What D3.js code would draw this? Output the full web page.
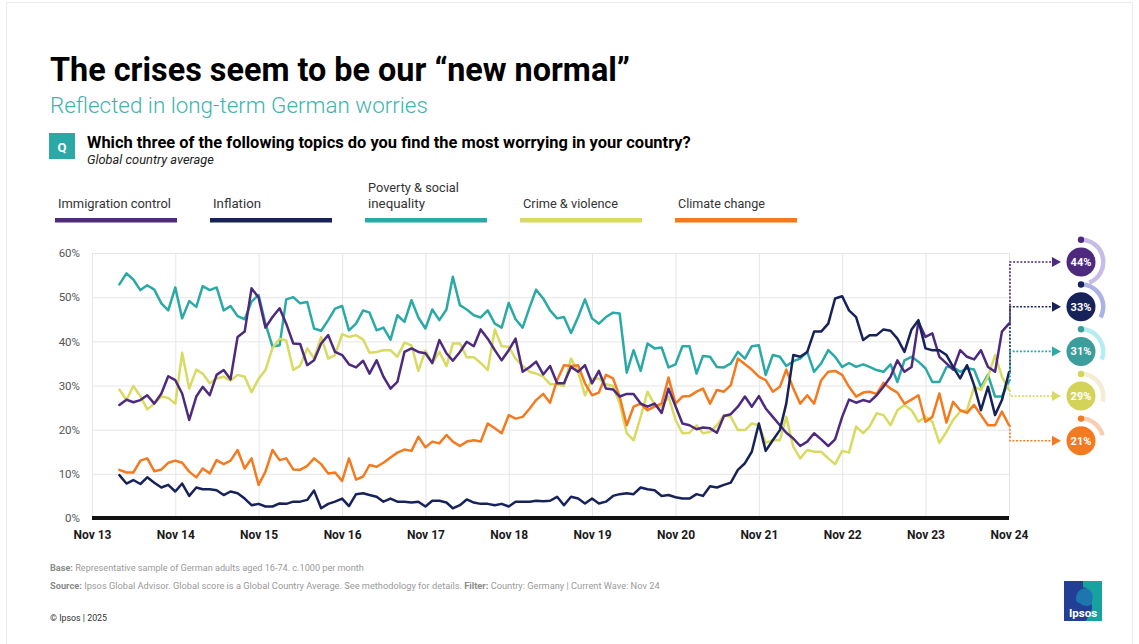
<!DOCTYPE html>
<html>
<head>
<meta charset="utf-8">
<script src="https://cdn.jsdelivr.net/npm/d3@7"></script>
<style>
  html, body { margin: 0; padding: 0; background: #fff; }
  svg { display: block; font-family: Roboto, "Noto Sans", sans-serif; }
</style>
</head>
<body>
<svg id="chart" width="1139" height="644"></svg>
<script>
// ---------------- DATA ----------------
const seriesNames = ["Immigration control", "Inflation", "Poverty & social inequality", "Crime & violence", "Climate change"];
const legendLines = [["Immigration control"], ["Inflation"], ["Poverty & social", "inequality"], ["Crime & violence"], ["Climate change"]];
const firstWave = "2014-03"; // monthly waves, Mar 2014 .. Nov 2024

const immigration = [
  25.6, 26.8, 26.2, 26.7, 27.8, 25.9, 28.2, 32.1, 31.2, 28.2,
  22.2, 27.5, 29.7, 27.8, 32.4, 33.5, 31.4, 41.0, 42.2, 52.0,
  49.9, 43.1, 45.5, 47.5, 44.0, 39.5, 39.4, 34.6, 35.7, 39.5,
  41.4, 37.6, 36.9, 34.8, 34.1, 35.6, 32.7, 35.7, 32.0, 29.3,
  30.8, 37.6, 38.4, 37.6, 37.3, 35.1, 40.3, 37.3, 35.6, 37.6,
  39.9, 38.9, 42.7, 40.6, 38.0, 35.7, 38.0, 40.6, 33.1, 34.2,
  35.4, 32.5, 34.4, 30.5, 30.5, 34.2, 33.1, 34.6, 30.5, 33.3,
  29.3, 29.1, 27.5, 28.1, 28.1, 25.9, 25.2, 25.9, 23.8, 29.3,
  25.3, 21.4, 21.0, 20.1, 20.5, 20.3, 19.3, 23.1, 23.5, 25.2,
  27.5, 25.2, 27.6, 24.8, 22.9, 21.0, 19.3, 18.0, 16.3, 17.3,
  19.2, 17.8, 16.3, 17.8, 22.9, 26.8, 26.1, 26.7, 26.3, 27.8,
  29.7, 32.0, 35.7, 33.1, 34.2, 44.4, 41.0, 41.8, 36.5, 35.0,
  33.6, 38.0, 36.5, 35.9, 38.0, 34.2, 33.1, 42.2, 44.0
];
const inflation = [
  9.7, 7.8, 8.6, 7.7, 9.2, 8.0, 6.9, 7.5, 6.0, 7.8,
  5.0, 6.9, 6.5, 6.5, 6.3, 5.2, 6.0, 5.6, 4.4, 2.9,
  3.2, 2.6, 2.6, 3.3, 3.2, 3.7, 3.7, 4.1, 6.2, 2.2,
  3.2, 3.7, 4.4, 2.7, 5.4, 5.6, 5.2, 4.8, 3.7, 4.4,
  3.7, 3.7, 3.5, 3.7, 2.6, 3.9, 3.9, 3.5, 2.2, 2.9,
  4.2, 3.5, 3.2, 3.2, 2.9, 3.2, 2.6, 3.7, 3.7, 3.7,
  3.9, 3.8, 3.9, 4.8, 2.9, 4.8, 4.4, 3.3, 4.4, 3.3,
  3.7, 5.0, 5.4, 5.6, 5.4, 6.9, 6.5, 6.3, 5.0, 5.2,
  4.7, 4.4, 4.4, 5.4, 5.0, 7.2, 6.9, 7.5, 8.0, 10.9,
  12.4, 15.0, 21.4, 15.2, 17.6, 19.9, 25.9, 36.9, 36.5, 37.6,
  42.2, 42.2, 44.0, 49.7, 50.2, 47.0, 45.5, 40.3, 41.4, 41.4,
  42.7, 42.4, 40.6, 37.6, 42.7, 44.8, 38.4, 38.0, 38.0, 36.9,
  34.2, 31.6, 34.6, 30.1, 24.4, 29.7, 23.3, 26.7, 33.0
];
const poverty = [
  52.9, 55.4, 54.0, 51.6, 52.7, 51.7, 48.6, 47.0, 52.2, 45.2,
  49.1, 47.8, 52.5, 51.6, 52.2, 47.0, 48.0, 45.7, 45.0, 49.0,
  50.5, 44.0, 38.8, 39.1, 49.5, 50.0, 48.6, 48.9, 42.9, 42.4,
  44.8, 47.4, 48.0, 42.5, 44.0, 47.0, 46.5, 42.5, 43.1, 40.4,
  45.9, 44.4, 49.3, 45.4, 42.9, 47.2, 44.8, 47.2, 54.6, 48.2,
  47.2, 45.9, 45.4, 47.0, 44.0, 43.1, 48.7, 45.0, 43.1, 47.8,
  51.7, 49.7, 47.0, 45.2, 45.5, 41.9, 45.5, 49.5, 45.2, 44.0,
  45.5, 46.5, 46.3, 32.9, 38.0, 33.3, 39.5, 38.4, 38.6, 34.1,
  34.8, 38.9, 38.9, 32.7, 36.7, 36.5, 34.2, 34.1, 35.0, 37.6,
  36.1, 38.9, 39.1, 32.4, 36.9, 36.5, 34.4, 35.5, 36.1, 37.6,
  33.1, 35.0, 38.0, 36.5, 34.2, 35.1, 34.2, 34.8, 34.2, 33.5,
  33.1, 34.8, 30.8, 35.7, 36.5, 35.4, 33.9, 30.8, 30.8, 34.2,
  34.2, 33.1, 33.9, 33.6, 29.7, 32.4, 27.5, 27.5, 31.0
];
const crime = [
  29.1, 26.7, 29.9, 27.6, 24.6, 25.9, 27.5, 27.2, 25.9, 37.4,
  29.3, 33.6, 32.7, 30.5, 31.6, 32.0, 31.1, 32.4, 32.0, 28.5,
  31.5, 33.5, 38.5, 40.6, 40.2, 33.5, 34.5, 38.4, 36.1, 41.0,
  36.1, 36.9, 41.6, 41.0, 41.4, 40.4, 37.4, 37.6, 38.0, 38.0,
  36.5, 39.7, 39.1, 33.3, 37.9, 35.0, 37.6, 34.4, 39.5, 39.5,
  36.4, 36.4, 35.1, 33.5, 42.7, 38.9, 38.8, 36.1, 34.4, 33.1,
  32.7, 32.0, 30.3, 30.3, 29.9, 36.1, 33.1, 27.8, 31.6, 31.6,
  30.3, 29.9, 25.9, 19.2, 17.6, 22.9, 28.6, 25.6, 25.2, 27.5,
  22.2, 19.2, 19.3, 21.0, 19.2, 19.5, 21.0, 23.3, 22.9, 19.9,
  19.9, 21.4, 21.0, 17.0, 17.6, 17.6, 22.9, 16.1, 13.5, 15.4,
  15.0, 15.0, 13.5, 12.2, 15.2, 14.8, 20.7, 19.2, 20.7, 23.7,
  23.3, 21.0, 24.4, 25.6, 24.4, 21.8, 22.9, 21.8, 17.0, 19.5,
  22.2, 24.1, 24.4, 29.7, 29.0, 32.0, 36.9, 32.0, 29.0
];
const climate = [
  10.9, 10.3, 10.3, 13.0, 13.5, 10.6, 11.0, 12.5, 13.0, 12.5,
  10.5, 9.2, 11.2, 10.1, 13.1, 12.2, 13.0, 15.4, 11.2, 13.5,
  7.5, 10.5, 15.4, 13.1, 13.5, 11.0, 10.9, 11.8, 13.5, 12.2,
  10.1, 10.3, 8.4, 13.5, 8.7, 9.4, 12.0, 11.6, 12.5, 13.7,
  14.8, 15.5, 15.2, 18.4, 16.0, 17.3, 16.9, 18.8, 17.3, 16.3,
  17.3, 17.6, 17.3, 21.4, 20.3, 19.2, 23.3, 22.5, 22.9, 24.8,
  26.7, 28.1, 26.1, 31.2, 34.6, 34.4, 34.6, 30.5, 27.8, 28.4,
  32.4, 31.6, 27.5, 21.0, 25.2, 25.9, 24.4, 25.2, 25.9, 31.8,
  25.9, 27.5, 27.6, 28.6, 29.3, 25.9, 29.0, 28.6, 30.1, 36.1,
  34.8, 33.6, 32.0, 31.2, 28.6, 29.7, 33.6, 29.3, 25.9, 27.8,
  25.9, 31.2, 33.1, 33.3, 32.4, 29.7, 27.5, 28.4, 28.6, 28.1,
  30.6, 29.3, 28.4, 25.9, 26.8, 27.8, 21.8, 22.9, 28.2, 21.6,
  26.3, 24.4, 23.8, 25.6, 23.3, 21.0, 21.0, 24.1, 21.0
];
const seriesValues = [immigration, inflation, poverty, crime, climate];

const yTickValues = [0, 10, 20, 30, 40, 50, 60];
const xTickLabels = ["Nov 13", "Nov 14", "Nov 15", "Nov 16", "Nov 17", "Nov 18", "Nov 19", "Nov 20", "Nov 21", "Nov 22", "Nov 23", "Nov 24"];

// ---------------- STYLE ----------------
const colors = ["#4e2a7e", "#17225a", "#2aa9a6", "#d8da62", "#f47a20"];
const badgeColors = ["#4e2a7e", "#17225a", "#3b9d9c", "#d3d35a", "#f47a20"];
const arcColors = ["#c7bce6", "#aab2e6", "#b4eef0", "#f4ecd3", "#f9cdb0"];
const drawOrder = [2, 3, 4, 0, 1];
const legendWidths = [[113], [48], [91, 57], [95], [87]];

const svg = d3.select("#chart");
const W = 1139, H = 644;

svg.append("rect").attr("x", 6.5).attr("y", 2.5).attr("width", W - 13).attr("height", H)
  .attr("fill", "#fff").attr("stroke", "#ececec");

function fit(sel, width) {
  const n = sel.node();
  const cur = n.getComputedTextLength();
  const fs = parseFloat(sel.attr("font-size"));
  if (cur > 0) sel.attr("font-size", (fs * width / cur).toFixed(2));
  return sel;
}

// ---------------- HEADER ----------------
fit(svg.append("text").attr("x", 50).attr("y", 81).attr("font-size", 30).attr("font-weight", 700)
  .attr("fill", "#000").text("The crises seem to be our \u201Cnew normal\u201D"), 580);

fit(svg.append("text").attr("x", 50).attr("y", 113).attr("font-size", 21).attr("font-weight", 300)
  .attr("fill", "#3fb3ad").text("Reflected in long-term German worries"), 378);

svg.append("rect").attr("x", 49).attr("y", 133).attr("width", 26).attr("height", 26).attr("fill", "#2aa9a6");
svg.append("text").attr("x", 62).attr("y", 151.5).attr("text-anchor", "middle").attr("font-size", 13)
  .attr("font-weight", 700).attr("fill", "#fff").text("Q");

fit(svg.append("text").attr("x", 87).attr("y", 148).attr("font-size", 15).attr("font-weight", 700)
  .attr("fill", "#000").text("Which three of the following topics do you find the most worrying in your country?"), 604);

fit(svg.append("text").attr("x", 87).attr("y", 164).attr("font-size", 11).attr("font-style", "italic")
  .attr("fill", "#222").text("Global country average"), 127);

// ---------------- LEGEND ----------------
const legendX = [58, 213, 368, 523, 678];
const legend = svg.append("g");
seriesNames.forEach((name, i) => {
  const lines = legendLines[i];
  lines.forEach((ln, j) => {
    const t = legend.append("text").attr("x", legendX[i]).attr("y", 208 - (lines.length - 1 - j) * 16)
      .attr("font-size", 12.5).attr("fill", "#333").text(ln);
    fit(t, legendWidths[i][j]);
  });
  legend.append("rect").attr("x", legendX[i] - 3).attr("y", 218).attr("width", 122).attr("height", 4.5)
    .attr("fill", colors[i]);
});

// ---------------- CHART ----------------
const x0 = 92, x1 = 1009, yTop = 253, yBot = 518;
const startDate = d3.timeParse("%Y-%m")(firstWave);
const x = d3.scaleTime().domain([new Date(2013, 10, 1), new Date(2024, 10, 1)]).range([x0, x1]);
const y = d3.scaleLinear().domain([0, 60]).range([yBot, yTop]);
const xTickDates = xTickLabels.map((_, i) => new Date(2013 + i, 10, 1));

const gy = svg.append("g").attr("transform", `translate(${x0},0)`)
  .call(d3.axisLeft(y).tickValues(yTickValues).tickFormat(d => d + "%").tickSize(-(x1 - x0)).tickPadding(12));
gy.select(".domain").remove();
gy.selectAll(".tick line").attr("stroke", "#e6e6e6").attr("stroke-width", 1);
gy.selectAll(".tick text").attr("font-size", 11.5).attr("fill", "#555").attr("font-family", "Roboto, sans-serif");

const gx = svg.append("g").attr("transform", `translate(0,${yBot})`)
  .call(d3.axisBottom(x).tickValues(xTickDates).tickFormat((d, i) => xTickLabels[i]).tickSize(-(yBot - yTop)).tickPadding(12));
gx.select(".domain").remove();
gx.selectAll(".tick line").attr("stroke", "#e6e6e6").attr("stroke-width", 1);
gx.selectAll(".tick text").attr("font-size", 12).attr("font-weight", 700).attr("fill", "#1a1a1a")
  .attr("font-family", "Roboto, sans-serif");

const series = seriesValues.map((vals, k) => ({
  k, name: seriesNames[k],
  pts: vals.map((v, i) => ({ date: d3.timeMonth.offset(startDate, i), v }))
}));

const line = d3.line().x(d => x(d.date)).y(d => y(d.v));
const linesG = svg.append("g");
drawOrder.forEach(k => {
  linesG.append("path").datum(series[k].pts).attr("d", line).attr("fill", "none")
    .attr("stroke", colors[k]).attr("stroke-width", 2.5).attr("stroke-linejoin", "round").attr("stroke-linecap", "round");
});

// baseline
svg.append("line").attr("x1", x0).attr("x2", x1).attr("y1", yBot).attr("y2", yBot)
  .attr("stroke", "#111").attr("stroke-width", 4);

// ---------------- END BADGES ----------------
const badgeX = 1081, badgeTop = 262, badgeStep = 44.7;
const conX = x1 + 1, arrowTip = 1061;
const annot = svg.append("g");
series.forEach((s, k) => {
  const last = s.pts[s.pts.length - 1];
  const yEnd = y(last.v);
  const by = badgeTop + k * badgeStep;
  annot.append("path")
    .attr("d", `M${conX},${yEnd} L${conX},${by} L${arrowTip - 8},${by}`)
    .attr("fill", "none").attr("stroke", colors[k]).attr("stroke-width", 1.6).attr("stroke-dasharray", "2,1.6");
  annot.append("path")
    .attr("d", `M${arrowTip - 9},${by - 5} L${arrowTip},${by} L${arrowTip - 9},${by + 5} Z`)
    .attr("fill", colors[k]);
  const arc = d3.arc().innerRadius(20).outerRadius(24.5).startAngle(0).endAngle(2 * Math.PI * last.v / 100);
  annot.append("path").attr("transform", `translate(${badgeX},${by})`).attr("d", arc()).attr("fill", arcColors[k]);
  annot.append("circle").attr("cx", badgeX).attr("cy", by - 22.2).attr("r", 3.2).attr("fill", badgeColors[k]);
  annot.append("circle").attr("cx", badgeX).attr("cy", by).attr("r", 14.5).attr("fill", badgeColors[k]);
  annot.append("text").attr("x", badgeX).attr("y", by + 4).attr("text-anchor", "middle")
    .attr("font-size", 11).attr("font-weight", 700).attr("fill", "#fff").text(Math.round(last.v) + "%");
});

// ---------------- FOOTER ----------------
const f1 = svg.append("text").attr("x", 50).attr("y", 571).attr("font-size", 8.5).attr("fill", "#9a9a9a");
f1.append("tspan").attr("font-weight", 700).attr("fill", "#8a8a8a").text("Base: ");
f1.append("tspan").text("Representative sample of German adults aged 16-74. c.1000 per month");
fit(f1, 314);

const f2 = svg.append("text").attr("x", 50).attr("y", 589).attr("font-size", 8.5).attr("fill", "#9a9a9a");
f2.append("tspan").attr("font-weight", 700).attr("fill", "#8a8a8a").text("Source: ");
f2.append("tspan").text("Ipsos Global Advisor. Global score is a Global Country Average. See methodology for details. ");
f2.append("tspan").attr("font-weight", 700).attr("fill", "#8a8a8a").text("Filter: ");
f2.append("tspan").text("Country: Germany | Current Wave: Nov 24");
fit(f2, 610);

fit(svg.append("text").attr("x", 50).attr("y", 621).attr("font-size", 9).attr("fill", "#333")
  .text("\u00A9 Ipsos | 2025"), 57);

// ---------------- LOGO ----------------
const logo = svg.append("g").attr("transform", "translate(1064,581)");
logo.append("rect").attr("width", 38).attr("height", 40).attr("fill", "#233f95");
logo.append("path").attr("d", "M19,0 L38,0 L38,40 L22,40 C26,32 30,28 27,22 C30,18 28,8 19,6 Z").attr("fill", "#16a39f");
logo.append("path").attr("d", "M12,18 C12,8 22,4 27,10 C30,14 29,19 27,21 C28,24 25,25 23,25 C20,25 17,24 16,22 C13,22 12,20 12,18 Z").attr("fill", "#1d7cb0").attr("opacity", 0.9);
logo.append("text").attr("x", 19).attr("y", 36).attr("text-anchor", "middle").attr("font-size", 11.5)
  .attr("font-weight", 700).attr("fill", "#fff").text("Ipsos");
</script>
</body>
</html>
